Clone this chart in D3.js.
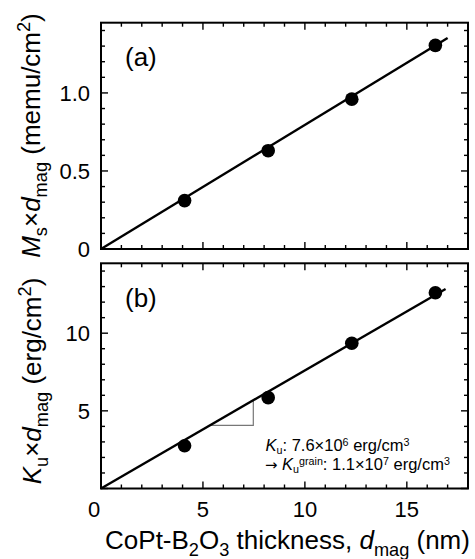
<!DOCTYPE html>
<html>
<head>
<meta charset="utf-8">
<script src="https://cdn.jsdelivr.net/npm/d3@7"></script>
<style>
  body { margin: 0; background: #fff; }
  svg text { font-family: "Liberation Sans", Arial, sans-serif; fill: #000; }
</style>
</head>
<body>
<div id="chart"></div>
<script>
// measured points (thickness in nm)
const thickness = [4.1, 8.2, 12.3, 16.4];
const msD = [0.31, 0.63, 0.96, 1.305];     // memu/cm2
const kuD = [2.75, 5.85, 9.35, 12.6];      // erg/cm2

// linear fits through origin
const fitX = [0, 17.0];
const msFit = [0, 1.352];
const kuFitX = [0, 16.9];
const kuFit = [0, 12.85];

// slope triangle in panel (b)
const triX = [5.36, 7.47, 7.47];
const triY = [4.07, 4.07, 5.68];

const xTicks = [0, 5, 10, 15];
const msTicks = [0, 0.5, 1.0];
const kuTicks = [5, 10];

const W = 475, H = 559;
const left = 101, right = 468;
const panelA = { top: 22.7, bottom: 249 };
const panelB = { top: 263.3, bottom: 488.5 };

const svg = d3.select("#chart").append("svg")
    .attr("width", W).attr("height", H);

const x = d3.scaleLinear().domain([0, 18]).range([left, right]);
const yA = d3.scaleLinear().domain([0, 1.45]).range([panelA.bottom, panelA.top]);
const yB = d3.scaleLinear().domain([0, 14.5]).range([panelB.bottom, panelB.top]);

// write text with italic / sub / sup pieces
function rich(sel, parts, size, ratio = 0.7, subShift = 0.25, supShift = 0.38) {
    let shift = 0;
    parts.forEach(p => {
        const t = sel.append("tspan").text(p[0]);
        const kind = p[1] || "";
        let target = 0;
        if (kind.includes("sub")) target = size * subShift;
        if (kind.includes("sup")) target = -size * supShift;
        if (target !== shift) { t.attr("dy", target - shift); shift = target; }
        if (kind.includes("sub") || kind.includes("sup")) t.style("font-size", (size * ratio) + "px");
        if (kind.includes("i")) t.style("font-style", "italic");
        if (kind.includes("arrow")) t.style("font-family", "DejaVu Sans").style("font-size", (size * 0.9) + "px");
    });
}

function frame(y, yMajor, yMinor, yLabels, showX) {
    const g = svg.append("g");
    const [y0, y1] = y.range();
    // minor and major ticks on all four sides, pointing inward
    const xMinor = d3.range(0, 18.01, 1);
    xMinor.forEach(v => {
        const len = v % 5 === 0 ? 7 : 4;
        g.append("line").attr("x1", x(v)).attr("x2", x(v)).attr("y1", y0).attr("y2", y0 - len);
        g.append("line").attr("x1", x(v)).attr("x2", x(v)).attr("y1", y1).attr("y2", y1 + len);
    });
    yMinor.forEach(v => {
        const major = yMajor.some(m => Math.abs(m - v) < 1e-6);
        const len = major ? 7 : 4;
        g.append("line").attr("y1", y(v)).attr("y2", y(v)).attr("x1", left).attr("x2", left + len);
        g.append("line").attr("y1", y(v)).attr("y2", y(v)).attr("x1", right).attr("x2", right - len);
    });
    g.selectAll("line").attr("stroke", "#000").attr("stroke-width", 1.4);
    g.append("rect").attr("x", left).attr("y", y1).attr("width", right - left).attr("height", y0 - y1)
        .attr("fill", "none").attr("stroke", "#000").attr("stroke-width", 2);

    g.selectAll(".ylab").data(yLabels).join("text")
        .attr("x", left - 11).attr("y", d => y(d.v)).attr("dy", "0.36em")
        .attr("text-anchor", "end").style("font-size", "22px").text(d => d.t);

    if (showX) {
        g.selectAll(".xlab").data(xTicks).join("text")
            .attr("x", d => x(d) - (d === 0 ? 7 : 0)).attr("y", y0 + 28)
            .attr("text-anchor", "middle").style("font-size", "22px").text(d => d);
    }
}

frame(yA, msTicks, d3.range(0, 1.451, 0.1), [{v: 0, t: "0"}, {v: 0.5, t: "0.5"}, {v: 1.0, t: "1.0"}], false);
frame(yB, kuTicks.concat([0]), d3.range(0, 14.5, 1), kuTicks.map(v => ({v, t: String(v)})), true);

// panel (a)
const lineA = d3.line().x(d => x(d[0])).y(d => yA(d[1]));
svg.append("path").datum(d3.zip(fitX, msFit)).attr("d", lineA)
    .attr("fill", "none").attr("stroke", "#000").attr("stroke-width", 2.4);
svg.selectAll(".ptA").data(d3.zip(thickness, msD)).join("circle")
    .attr("cx", d => x(d[0])).attr("cy", d => yA(d[1])).attr("r", 6.8).attr("fill", "#000");

// panel (b)
const lineB = d3.line().x(d => x(d[0])).y(d => yB(d[1]));
svg.append("path").datum(d3.zip(triX, triY)).attr("d", lineB)
    .attr("fill", "none").attr("stroke", "#777").attr("stroke-width", 1.2);
svg.append("path").datum(d3.zip(kuFitX, kuFit)).attr("d", lineB)
    .attr("fill", "none").attr("stroke", "#000").attr("stroke-width", 2.4);
svg.selectAll(".ptB").data(d3.zip(thickness, kuD)).join("circle")
    .attr("cx", d => x(d[0])).attr("cy", d => yB(d[1])).attr("r", 6.8).attr("fill", "#000");

// panel tags
svg.append("text").attr("x", 125).attr("y", 66).style("font-size", "26px").text("(a)");
svg.append("text").attr("x", 125).attr("y", 306.5).style("font-size", "26px").text("(b)");

// annotation
const ann1 = svg.append("text").attr("x", 265.5).attr("y", 450.5).style("font-size", "16.5px");
rich(ann1, [["K", "i"], ["u", "sub"], [": 7.6×10"], ["6", "sup"], [" erg/cm"], ["3", "sup"]], 16.5, 0.65, 0.2, 0.3);
const ann2 = svg.append("text").attr("x", 265).attr("y", 470).style("font-size", "16.5px");
rich(ann2, [["→", "arrow"], [" "], ["K", "i"], ["u", "sub"], ["grain", "sup"], [": 1.1×10"], ["7", "sup"], [" erg/cm"], ["3", "sup"]], 16.5, 0.65, 0.2, 0.3);

// axis titles
const xt = svg.append("text").attr("x", 287.5).attr("y", 549)
    .attr("text-anchor", "middle").style("font-size", "26px");
rich(xt, [["CoPt-B"], ["2", "sub"], ["O"], ["3", "sub"], [" thickness, "], ["d", "i"], ["mag", "sub"], [" (nm)"]], 26);

const yt1 = svg.append("text").attr("transform", `translate(40,135.5) rotate(-90)`)
    .attr("text-anchor", "middle").style("font-size", "26px");
rich(yt1, [["M", "i"], ["s", "sub"], ["×"], ["d", "i"], ["mag", "sub"], [" (memu/cm"], ["2", "sup"], [")"]], 26);

const yt2 = svg.append("text").attr("transform", `translate(41,381) rotate(-90)`)
    .attr("text-anchor", "middle").style("font-size", "26px");
rich(yt2, [["K", "i"], ["u", "sub"], ["×"], ["d", "i"], ["mag", "sub"], [" (erg/cm"], ["2", "sup"], [")"]], 26);
</script>
</body>
</html>
